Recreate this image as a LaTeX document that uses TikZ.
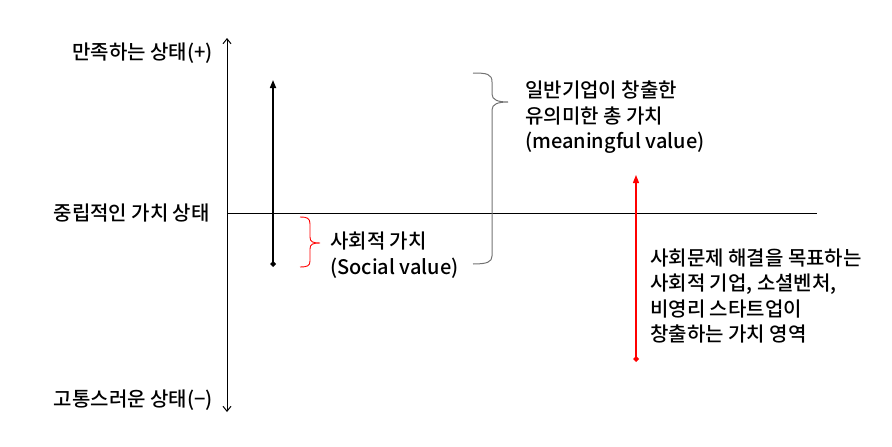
\documentclass[tikz,border=0pt]{standalone}
\usepackage{fontspec}
\setmainfont{Noto Sans CJK KR Medium}
\usetikzlibrary{arrows.meta}
\usetikzlibrary{positioning}
\colorlet{myred}{red}
\colorlet{mygray}{black!55}
\tikzset{label text/.style={font=\fontsize{20}{25.5}\selectfont,inner sep=0pt,align=left}}

\begin{document}
\begin{tikzpicture}[x=1pt,y=-1pt]
		\useasboundingbox (0,0) rectangle (892,447);
		
		% axis points
		\coordinate (plus) at (227,38);
		\coordinate (minus) at (227,412);
		\coordinate (zero) at (227,213);
		\coordinate (zeroend) at (817,213);
		
		% vertical axis and neutral line
		\draw[line width=1pt,{Straight Barb[length=5pt,width=8pt]}-{Straight Barb[length=5pt,width=8pt]}] (minus) -- (plus);
		\draw[line width=0.9pt] (zero) -- (zeroend);
		
		% axis labels
		\node[label text,anchor=east] (satisfied) at (213,53) {만족하는 상태(+)};
		\node[label text,anchor=east] (neutral) at (210,213) {중립적인 가치 상태};
		\node[label text,anchor=east] (painful) at (213,400) {고통스러운 상태(−)};
		
		% black arrow
		\coordinate (blacklow) at (273,267);
		\coordinate (blackhigh) at (273,80);
		\draw[line width=1.6pt,{Diamond[length=6pt,width=6pt]}-{Triangle[length=8pt,width=6pt]}] (blacklow) -- (blackhigh);
		
		% red arrow
		\coordinate (redlow) at (636,362);
		\coordinate (redhigh) at (636,175);
		\draw[myred,line width=1.2pt,{Diamond[length=6pt,width=6pt]}-{Triangle[length=8pt,width=6pt]}] (redlow) -- (redhigh);
		
		% social value brace
		\draw[myred,line width=0.9pt] (300,217) .. controls (307,217) and (310,218) .. (310,224) -- (310,237) .. controls (310,242) and (313,243) .. (320,243) .. controls (313,243) and (310,244) .. (310,249) -- (310,261) .. controls (310,266) and (307,267) .. (300,267);
		\node[label text,anchor=west] (social) at (330,255) {사회적 가치\\ (Social value)};
		
		% meaningful value brace
		\draw[mygray,line width=1pt] (473,73) .. controls (487,73) and (492,74) .. (492,82) -- (492,94) .. controls (492,100) and (498,102) .. (508,102) .. controls (498,102) and (492,104) .. (492,110) -- (492,256) .. controls (492,262) and (487,264) .. (473,264);
		\node[label text,anchor=west] (meaningful) at (525,117.5) {일반기업이 창출한\\유의미한 총 가치\\(meaningful value)};
		
		% social venture text
		\node[label text,anchor=west] (venture) at (650,296) {사회문제 해결을 목표하는\\사회적 기업, 소셜벤처,\\비영리 스타트업이\\창출하는 가치 영역};
	\end{tikzpicture}
\end{document}
